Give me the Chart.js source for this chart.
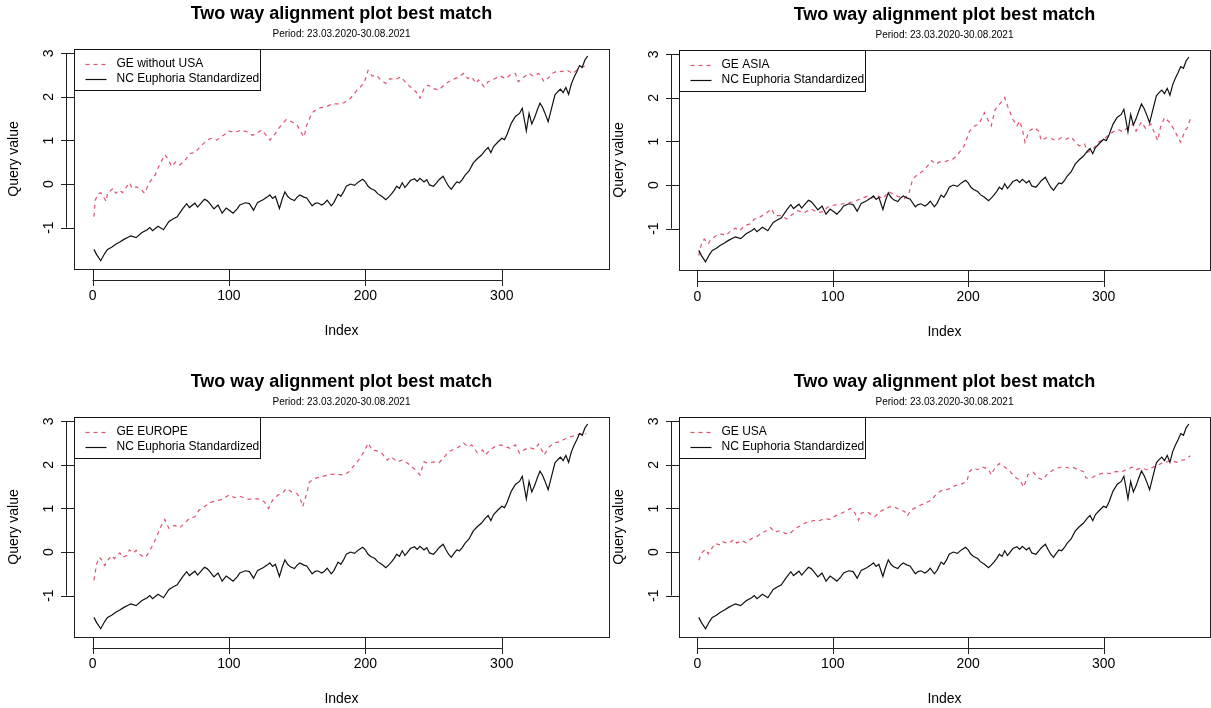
<!DOCTYPE html>
<html>
<head>
<meta charset="utf-8">
<script src="https://cdn.jsdelivr.net/npm/chart.js@4.4.0/dist/chart.umd.min.js"></script>
<style>
  html, body { margin: 0; padding: 0; background: #fff; width: 1211px; height: 708px; overflow: hidden; }
  .panel { position: absolute; width: 610px; height: 340px; }
</style>
</head>
<body>
<div class="panel" style="left:0px;top:0px"><canvas id="p1" width="610" height="340"></canvas></div>
<div class="panel" style="left:605px;top:1px"><canvas id="p2" width="610" height="340"></canvas></div>
<div class="panel" style="left:0px;top:368px"><canvas id="p3" width="610" height="340"></canvas></div>
<div class="panel" style="left:605px;top:368px"><canvas id="p4" width="610" height="340"></canvas></div>

<script>
// values, [index, query value]
const ncEuphoria = [
  [1,-1.50],[3,-1.62],[6,-1.76],[9,-1.59],[11,-1.50],[14,-1.45],[17,-1.38],[20,-1.33],[23,-1.27],[26,-1.22],
  [28,-1.19],[32,-1.23],[36,-1.12],[40,-1.05],[42,-1.00],[44,-1.07],[48,-0.97],[52,-1.05],[56,-0.86],[59,-0.80],
  [62,-0.75],[66,-0.57],[69,-0.45],[71,-0.54],[75,-0.44],[77,-0.53],[80,-0.42],[82,-0.35],[84,-0.38],[86,-0.45],
  [89,-0.57],[92,-0.48],[95,-0.67],[98,-0.55],[101,-0.62],[103,-0.67],[106,-0.57],[108,-0.48],[112,-0.43],[115,-0.45],
  [118,-0.60],[121,-0.42],[125,-0.36],[128,-0.30],[130,-0.25],[132,-0.33],[134,-0.28],[137,-0.56],[139,-0.35],[141,-0.18],
  [143,-0.28],[145,-0.34],[148,-0.38],[150,-0.30],[152,-0.25],[155,-0.30],[157,-0.32],[161,-0.50],[163,-0.45],[165,-0.43],
  [168,-0.48],[170,-0.44],[172,-0.37],[175,-0.50],[177,-0.42],[180,-0.23],[182,-0.28],[184,-0.18],[186,-0.05],[189,0.00],
  [192,-0.03],[195,0.05],[198,0.11],[200,0.05],[202,-0.05],[204,-0.10],[207,-0.15],[209,-0.22],[212,-0.28],[215,-0.36],
  [217,-0.30],[219,-0.23],[221,-0.15],[223,-0.05],[225,-0.10],[227,0.03],[229,-0.08],[231,0.00],[233,0.08],[236,0.12],
  [238,0.06],[240,0.13],[243,0.05],[245,0.10],[247,-0.02],[250,-0.05],[252,0.02],[254,0.10],[257,0.18],[259,0.06],
  [261,-0.05],[263,-0.12],[265,-0.03],[267,0.05],[269,0.03],[271,0.10],[273,0.20],[276,0.30],[279,0.48],[282,0.58],
  [285,0.66],[288,0.78],[290,0.84],[292,0.72],[294,0.86],[297,0.96],[300,1.05],[302,1.02],[304,1.15],[307,1.40],
  [310,1.55],[313,1.62],[315,1.74],[317,1.40],[318,1.22],[320,1.62],[322,1.38],[324,1.52],[326,1.70],[328,1.86],
  [330,1.75],[332,1.60],[334,1.43],[336,1.68],[339,2.05],[341,2.12],[343,2.18],[345,2.10],[347,2.22],[349,2.06],
  [351,2.30],[353,2.45],[355,2.58],[357,2.72],[359,2.68],[361,2.85],[363,2.94]
];

const geWithoutUsa = [
  [1,-0.75],[2,-0.37],[4,-0.23],[6,-0.20],[8,-0.29],[10,-0.40],[11,-0.21],[15,-0.10],[17,-0.21],[20,-0.14],
  [22,-0.20],[27,0.03],[29,-0.10],[32,-0.06],[36,-0.14],[38,-0.21],[42,0.05],[46,0.21],[49,0.44],[53,0.67],
  [55,0.59],[58,0.40],[61,0.51],[64,0.44],[68,0.55],[71,0.70],[75,0.72],[79,0.86],[84,1.01],[87,1.05],
  [91,1.01],[96,1.12],[100,1.22],[104,1.18],[109,1.24],[113,1.20],[117,1.12],[120,1.16],[124,1.24],[128,1.09],
  [130,1.01],[134,1.16],[137,1.30],[142,1.48],[146,1.43],[150,1.35],[152,1.24],[155,1.08],[157,1.35],[161,1.64],
  [166,1.74],[172,1.79],[176,1.84],[180,1.84],[184,1.86],[189,1.97],[194,2.16],[199,2.31],[202,2.61],[205,2.48],
  [208,2.50],[211,2.40],[215,2.31],[218,2.42],[222,2.40],[226,2.46],[229,2.35],[233,2.23],[237,2.12],[240,1.97],
  [243,2.19],[246,2.27],[250,2.19],[254,2.16],[259,2.31],[264,2.40],[268,2.45],[272,2.54],[275,2.42],[278,2.46],
  [281,2.31],[283,2.39],[287,2.23],[290,2.35],[295,2.42],[299,2.48],[303,2.42],[306,2.50],[310,2.54],[312,2.35],
  [316,2.45],[320,2.54],[323,2.48],[327,2.54],[331,2.35],[335,2.46],[337,2.54],[341,2.60],[344,2.58],[348,2.61],
  [352,2.54],[355,2.61],[359,2.68],[363,2.73]
];

const geAsia = [
  [1,-1.62],[3,-1.35],[5,-1.24],[8,-1.35],[10,-1.24],[14,-1.16],[18,-1.12],[21,-1.16],[24,-1.07],[28,-0.99],
  [31,-1.05],[35,-0.93],[39,-0.89],[42,-0.78],[46,-0.74],[50,-0.66],[55,-0.55],[57,-0.70],[62,-0.70],[66,-0.78],
  [69,-0.70],[74,-0.59],[79,-0.63],[84,-0.55],[89,-0.63],[93,-0.61],[96,-0.51],[101,-0.46],[106,-0.44],[111,-0.41],
  [116,-0.38],[120,-0.32],[125,-0.26],[128,-0.31],[133,-0.24],[137,-0.32],[141,-0.15],[145,-0.21],[148,-0.26],[153,-0.31],
  [156,-0.21],[159,0.14],[163,0.25],[167,0.33],[170,0.44],[173,0.56],[176,0.48],[179,0.53],[183,0.54],[189,0.60],
  [192,0.69],[197,0.90],[201,1.24],[205,1.36],[208,1.40],[212,1.66],[215,1.47],[217,1.36],[220,1.74],[223,1.85],
  [227,2.01],[229,1.82],[233,1.51],[236,1.36],[238,1.47],[240,1.28],[242,0.98],[245,1.24],[249,1.32],[252,1.24],
  [254,1.02],[258,1.09],[261,1.07],[265,1.02],[269,1.09],[272,1.05],[276,1.11],[279,0.99],[282,0.90],[286,0.94],
  [288,0.75],[292,0.82],[296,0.98],[300,1.05],[303,1.13],[307,1.22],[311,1.27],[314,1.22],[318,1.32],[322,1.40],
  [324,1.24],[328,1.45],[331,1.30],[335,1.40],[337,1.24],[340,1.02],[342,1.32],[345,1.55],[349,1.43],[352,1.28],
  [355,1.09],[357,0.98],[360,1.24],[362,1.32],[364,1.51]
];

const geEurope = [
  [1,-0.65],[3,-0.27],[5,-0.12],[7,-0.19],[9,-0.31],[11,-0.19],[14,-0.08],[16,-0.15],[20,-0.02],[22,-0.12],
  [25,-0.08],[27,0.05],[30,-0.02],[32,0.04],[34,-0.04],[37,-0.10],[39,-0.12],[42,0.04],[44,0.15],[47,0.35],
  [50,0.58],[53,0.75],[56,0.54],[60,0.61],[64,0.56],[67,0.65],[71,0.77],[75,0.81],[78,0.96],[82,1.04],
  [86,1.13],[90,1.18],[93,1.19],[97,1.25],[100,1.31],[104,1.25],[108,1.28],[112,1.23],[115,1.21],[119,1.23],
  [123,1.21],[126,1.15],[129,1.00],[132,1.19],[136,1.31],[140,1.38],[142,1.46],[146,1.38],[150,1.34],[152,1.25],
  [154,1.04],[157,1.34],[159,1.61],[163,1.69],[168,1.73],[174,1.78],[179,1.79],[184,1.77],[188,1.84],[191,1.96],
  [195,2.11],[199,2.30],[202,2.50],[205,2.34],[208,2.33],[212,2.27],[216,2.11],[219,2.19],[223,2.07],[227,2.11],
  [231,2.04],[234,1.96],[237,1.88],[240,1.77],[243,2.07],[246,2.04],[250,2.07],[254,2.05],[257,2.15],[261,2.30],
  [265,2.36],[268,2.40],[272,2.50],[275,2.42],[278,2.46],[282,2.28],[286,2.34],[288,2.23],[292,2.36],[295,2.42],
  [299,2.46],[303,2.42],[306,2.38],[310,2.46],[313,2.27],[316,2.34],[320,2.40],[324,2.36],[327,2.48],[331,2.23],
  [335,2.42],[338,2.50],[342,2.53],[346,2.59],[349,2.63],[353,2.67],[357,2.71],[360,2.73],[362,2.71]
];

const geUsa = [
  [1,-0.19],[3,-0.02],[6,0.06],[8,-0.04],[11,0.10],[13,0.20],[17,0.16],[19,0.23],[23,0.20],[27,0.29],
  [29,0.21],[33,0.26],[36,0.21],[40,0.31],[44,0.36],[47,0.43],[51,0.49],[54,0.56],[57,0.46],[61,0.49],
  [65,0.43],[68,0.41],[72,0.54],[76,0.60],[79,0.66],[83,0.70],[87,0.73],[90,0.72],[94,0.77],[98,0.75],
  [102,0.83],[105,0.87],[109,0.93],[113,1.00],[115,0.97],[119,0.73],[121,0.89],[125,0.93],[129,0.85],[131,0.81],
  [135,0.93],[138,0.98],[142,1.04],[146,1.03],[149,0.97],[153,0.93],[155,0.83],[158,0.97],[162,1.03],[165,1.08],
  [169,1.13],[173,1.20],[176,1.31],[180,1.41],[185,1.44],[190,1.52],[195,1.56],[199,1.62],[201,1.85],[204,1.93],
  [207,1.89],[211,1.95],[215,1.90],[217,1.77],[220,1.95],[223,2.03],[227,1.95],[231,1.85],[234,1.73],[238,1.66],
  [241,1.49],[244,1.77],[248,1.83],[252,1.70],[255,1.66],[259,1.81],[263,1.89],[266,1.93],[270,1.96],[274,1.93],
  [277,1.95],[281,1.89],[285,1.85],[287,1.70],[291,1.70],[295,1.77],[298,1.80],[302,1.81],[306,1.80],[309,1.85],
  [313,1.83],[317,1.90],[321,1.95],[324,1.89],[328,1.93],[332,1.89],[335,1.93],[339,1.98],[343,2.04],[346,2.06],
  [350,2.10],[354,2.06],[357,2.10],[361,2.13],[364,2.21]
];

const xTicks = [0, 100, 200, 300];
const yTicks = [-1, 0, 1, 2, 3];
const titleText = 'Two way alignment plot best match';
const periodText = 'Period: 23.03.2020-30.08.2021';

const FONT = "'Liberation Sans', Arial, sans-serif";
const GE_RED = '#DF536B';

const toXY = arr => arr.map(p => ({ x: p[0], y: p[1] }));

// R base-graphics look: box, axes, titles, legend
const rBase = {
    id: 'rBase',
    afterDraw(chart) {
        const ctx = chart.ctx;
        const a = chart.chartArea;
        const xs = chart.scales.x;
        const ys = chart.scales.y;
        const cx = (a.left + a.right) / 2;
        ctx.save();
        ctx.strokeStyle = '#222';
        ctx.lineWidth = 1;
        ctx.fillStyle = '#000';

        // plot box
        ctx.strokeRect(Math.round(a.left) + 0.5, Math.round(a.top) + 0.5,
            Math.round(a.right - a.left), Math.round(a.bottom - a.top));

        // x axis
        const axY = Math.round(a.bottom) + 11.5;
        ctx.beginPath();
        ctx.moveTo(xs.getPixelForValue(xTicks[0]), axY);
        ctx.lineTo(xs.getPixelForValue(xTicks[xTicks.length - 1]), axY);
        xTicks.forEach(t => {
            const px = Math.round(xs.getPixelForValue(t)) + 0.5;
            ctx.moveTo(px, a.bottom);
            ctx.lineTo(px, a.bottom + 17);
        });
        ctx.stroke();
        ctx.font = '14px ' + FONT;
        ctx.textAlign = 'center';
        ctx.textBaseline = 'middle';
        xTicks.forEach(t => ctx.fillText(String(t), xs.getPixelForValue(t), a.bottom + 27));

        // y axis
        const axX = Math.round(a.left) - 7.5;
        ctx.beginPath();
        ctx.moveTo(axX, ys.getPixelForValue(yTicks[0]));
        ctx.lineTo(axX, ys.getPixelForValue(yTicks[yTicks.length - 1]));
        yTicks.forEach(t => {
            const py = Math.round(ys.getPixelForValue(t)) + 0.5;
            ctx.moveTo(a.left, py);
            ctx.lineTo(a.left - 13, py);
        });
        ctx.stroke();
        yTicks.forEach(t => {
            ctx.save();
            ctx.translate(a.left - 25, ys.getPixelForValue(t));
            ctx.rotate(-Math.PI / 2);
            ctx.fillText(String(t), 0, 0);
            ctx.restore();
        });

        // axis titles
        ctx.fillText('Index', cx, a.bottom + 62);
        ctx.save();
        ctx.translate(14, (a.top + a.bottom) / 2);
        ctx.rotate(-Math.PI / 2);
        ctx.fillText('Query value', 0, 0);
        ctx.restore();

        // main title + period
        ctx.font = 'bold 18px ' + FONT;
        ctx.fillText(titleText, cx, 14);
        ctx.font = '10px ' + FONT;
        ctx.fillText(periodText, cx, 34);

        // legend
        const lx = Math.round(a.left) + 0.5, ly = Math.round(a.top) + 0.5;
        ctx.fillStyle = '#fff';
        ctx.fillRect(lx, ly, 186, 41);
        ctx.strokeStyle = '#111';
        ctx.strokeRect(lx, ly, 186, 41);
        ctx.font = '12px ' + FONT;
        ctx.textAlign = 'left';
        chart.data.datasets.forEach((ds, i) => {
            const y = ly + 14 + i * 15;
            ctx.strokeStyle = ds.borderColor;
            ctx.lineWidth = 1.2;
            ctx.setLineDash(ds.borderDash || []);
            ctx.beginPath();
            ctx.moveTo(lx + 11, Math.round(y) + 0.5);
            ctx.lineTo(lx + 32, Math.round(y) + 0.5);
            ctx.stroke();
            ctx.setLineDash([]);
            ctx.fillStyle = '#000';
            ctx.fillText(ds.label, lx + 42, y);
        });
        ctx.restore();
    }
};

function makePanel(id, geLabel, geData, padRight) {
    new Chart(document.getElementById(id), {
        type: 'line',
        data: {
            datasets: [
                {
                    label: geLabel,
                    data: toXY(geData),
                    borderColor: GE_RED,
                    borderWidth: 1.2,
                    borderDash: [4, 4],
                    pointRadius: 0,
                    order: 1
                },
                {
                    label: 'NC Euphoria Standardized',
                    data: toXY(ncEuphoria),
                    borderColor: '#111',
                    borderWidth: 1.2,
                    pointRadius: 0,
                    order: 0
                }
            ]
        },
        options: {
            responsive: false,
            animation: false,
            layout: { padding: { left: 74, top: 49, right: padRight, bottom: 71 } },
            scales: {
                x: { type: 'linear', display: false, min: -13.6, max: 378.6 },
                y: { type: 'linear', display: false, min: -1.95, max: 3.1 }
            },
            plugins: {
                legend: { display: false },
                tooltip: { enabled: false }
            }
        },
        plugins: [rBase]
    });
}

makePanel('p1', 'GE without USA', geWithoutUsa, 1);
makePanel('p2', 'GE ASIA', geAsia, 5);
makePanel('p3', 'GE EUROPE', geEurope, 1);
makePanel('p4', 'GE USA', geUsa, 5);
</script>
</body>
</html>
